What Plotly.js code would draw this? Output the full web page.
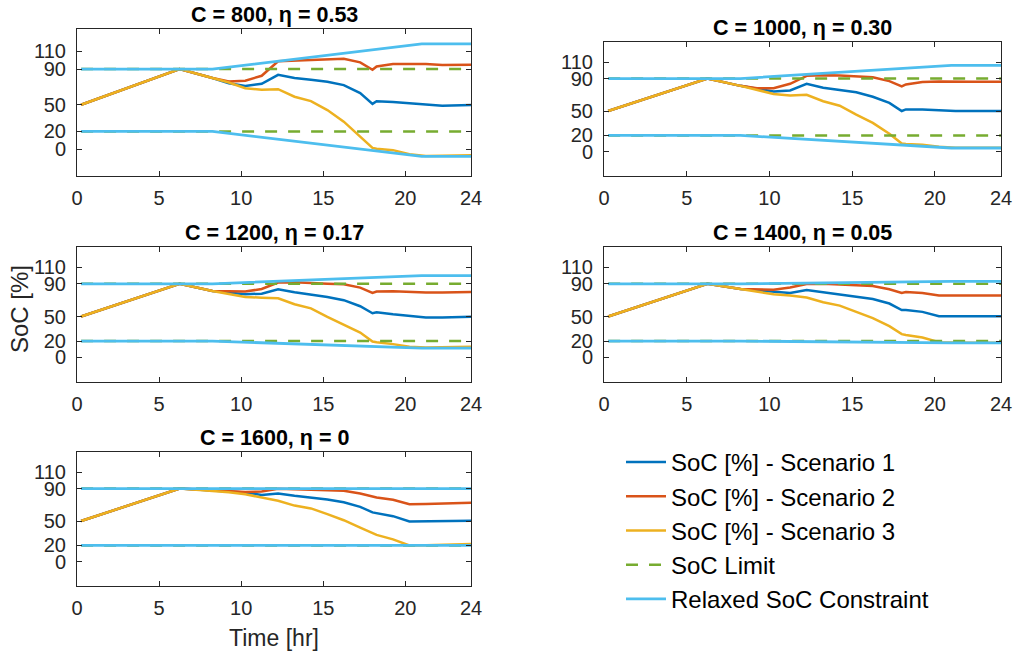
<!DOCTYPE html>
<html>
<head>
<meta charset="utf-8">
<script src="https://cdn.plot.ly/plotly-3.0.1.min.js"></script>
<style>html,body{margin:0;padding:0;background:#fff;}#chart{width:1017px;height:651px;}</style>
</head>
<body>
<div id="chart"></div>
<script>
// ---------- DATA ----------
const panelTitles = ["C = 800, η = 0.53", "C = 1000, η = 0.30", "C = 1200, η = 0.17", "C = 1400, η = 0.05", "C = 1600, η = 0"];
const seriesNames = ["SoC [%] - Scenario 1", "SoC [%] - Scenario 2", "SoC [%] - Scenario 3", "SoC Limit", "Relaxed SoC Constraint"];
const xTicks = [0, 5, 10, 15, 20, 24];
const yTicks = [0, 20, 50, 90, 110];

// time grid (hours) for the SoC trajectories
const timeHr = [0.25, 6.25, 8.25, 9.25, 10.25, 11.25, 12.25, 13.25, 14.25, 15.25, 16.25, 17.25, 18, 18.25, 19.25, 20.25, 21.25, 22.25, 24];
// time vertices for limits and relaxed constraints
const timeBound = [0.25, 8.25, 21, 24];
const timeLimit = [0.25, 24];

const soc1 = [
  [50, 90, 80, 74, 71, 73.5, 83.6, 79.9, 78, 75.7, 72, 63, 51, 54, 53, 51.6, 49.4, 48.8, 49.7],
  [50, 90, 81, 77.4, 74, 75.4, 83.5, 78.6, 76.2, 73, 67.6, 60, 50, 52, 52, 51, 50, 50, 50],
  [50, 90, 81.3, 79, 77.2, 78, 83.3, 79.7, 77.2, 74, 70, 62.6, 54, 55.3, 52.8, 50.4, 48.8, 48.8, 49.6],
  [50, 90, 83.7, 82, 80, 78.9, 82.5, 79.7, 77.2, 74.8, 71.5, 65.9, 58, 58, 55.7, 50.4, 50.4, 50.4, 50.4],
  [50, 90, 87.6, 86.3, 85.1, 82.2, 83.9, 81, 79, 76.5, 73.2, 67.5, 60.6, 59.5, 56, 49.5, 49.5, 49.7, 50.3]
];
const soc2 = [
  [50, 90, 80, 76, 77, 82.5, 98.7, 99.5, 100.2, 101, 101.7, 97.6, 89.3, 93, 95.7, 95.7, 95.7, 94.6, 95],
  [50, 90, 81, 78.2, 78.2, 83.5, 93.3, 94, 93.7, 92.9, 91.7, 86.8, 80.3, 82.7, 85.6, 86.4, 86, 86, 86],
  [50, 90, 81.3, 80.9, 80.5, 83.7, 91.5, 91.9, 91.5, 90.2, 89.4, 85.4, 78.9, 80.5, 80.9, 79.7, 79.3, 79.3, 80],
  [50, 90, 83.7, 82.9, 82.9, 85.4, 89.8, 90.2, 89.4, 88.6, 87.4, 83.3, 78.9, 80, 78.9, 75.6, 75.6, 75.6, 75.6],
  [50, 90, 88, 87.2, 85.9, 86.3, 89.6, 89.2, 88.8, 88, 87.2, 83.9, 79.8, 79, 76.1, 70.8, 71, 71.5, 72.4]
];
const soc3 = [
  [50, 90, 80, 75, 68.6, 66.7, 67.4, 59, 54, 44, 31, 14.5, 1.5, 0.5, -1, -5.6, -7.5, -7.2, -6.8],
  [50, 90, 81, 75.8, 71, 69, 70, 62, 56.6, 45.6, 35.4, 22, 10, 9.5, 8.6, 6.1, 4.9, 4.9, 4.9],
  [50, 90, 81.3, 78, 74, 73, 72.4, 65, 60, 49.6, 39.8, 30.5, 19.5, 18.5, 16.3, 13, 12.2, 12.2, 13],
  [50, 90, 83.7, 80.5, 77.2, 75.6, 73.2, 67.5, 63.4, 55.7, 48, 38.2, 28.5, 27.5, 24.4, 18.7, 17.9, 17.9, 17.9],
  [50, 90, 87, 85.5, 83, 79, 74.9, 69, 65.5, 58.5, 51, 42, 34.8, 33, 27.4, 20, 20.3, 20.8, 21.7]
];
const limitUpper = [90, 90];
const limitLower = [20, 20];
const relaxedUpper = [
  [90, 90, 118.3, 118.3],
  [90, 90, 106.3, 106.3],
  [90, 90, 100, 100],
  [90, 90, 93, 93],
  [90, 90, 90, 90]
];
const relaxedLower = [
  [20, 20, -7.9, -7.9],
  [20, 20, 4.5, 4.5],
  [20, 20, 11.4, 11.4],
  [20, 20, 17.9, 17.9],
  [20, 20, 20, 20]
];

// ---------- STYLE / LAYOUT ----------
const W = 1017, H = 651;
const colors = ["#0072BD", "#D95319", "#EDB120", "#77AC30", "#4DBEEE"];
const FONT = "Liberation Sans, Arial, Helvetica, sans-serif";
const TXT = "#262626";
// pixel boxes [left, right, top, bottom]
const boxes = [
  [77, 471, 29, 176],
  [604, 1001, 42, 176],
  [77, 471, 247, 382],
  [604, 1001, 247, 382],
  [77, 471, 452, 586]
];

const traces = [];
const layout = {
  width: W, height: H,
  margin: {l: 0, r: 0, t: 0, b: 0},
  paper_bgcolor: "#fff", plot_bgcolor: "#fff",
  font: {family: FONT, color: TXT, size: 20},
  showlegend: true,
  legend: {
    x: 621 / W, y: 1 - 440 / H, xanchor: "left", yanchor: "top",
    font: {family: FONT, size: 24, color: "#000"},
    bgcolor: "rgba(0,0,0,0)", itemwidth: 40, tracegroupgap: 0
  },
  annotations: []
};

boxes.forEach((b, i) => {
  const k = i + 1;
  const xa = k === 1 ? "x" : "x" + k;
  const ya = k === 1 ? "y" : "y" + k;
  const axCommon = {
    showgrid: false, zeroline: false, showline: true, linecolor: TXT, linewidth: 1,
    mirror: "ticks", ticks: "inside", ticklen: 5, tickcolor: TXT, tickwidth: 1,
    tickfont: {family: FONT, size: 20, color: TXT}, fixedrange: true
  };
  layout["xaxis" + (k === 1 ? "" : k)] = Object.assign({}, axCommon, {
    domain: [b[0] / W, b[1] / W], anchor: ya, range: [0, 24],
    tickmode: "array", tickvals: xTicks, ticktext: xTicks.map(String), ticklabelstandoff: 4
  });
  layout["yaxis" + (k === 1 ? "" : k)] = Object.assign({}, axCommon, {
    domain: [1 - b[3] / H, 1 - b[2] / H], anchor: xa, range: [-30, 135],
    tickmode: "array", tickvals: yTicks, ticktext: yTicks.map(String), ticklabelstandoff: 6
  });
  layout.annotations.push({
    text: "<b>" + panelTitles[i] + "</b>", xref: xa + " domain", yref: ya + " domain",
    x: 0.5, y: 1, xanchor: "center", yanchor: "bottom", yshift: 0, showarrow: false,
    font: {family: FONT, size: 21.5, color: "#000"}
  });
  const show = i === 0;
  const base = {xaxis: xa, yaxis: ya, mode: "lines", showlegend: show, hoverinfo: "skip"};
  traces.push(Object.assign({}, base, {x: timeHr, y: soc1[i], name: seriesNames[0], legendgroup: "s1", line: {color: colors[0], width: 2.5}}));
  traces.push(Object.assign({}, base, {x: timeHr, y: soc2[i], name: seriesNames[1], legendgroup: "s2", line: {color: colors[1], width: 2.5}}));
  traces.push(Object.assign({}, base, {x: timeHr, y: soc3[i], name: seriesNames[2], legendgroup: "s3", line: {color: colors[2], width: 2.5}}));
  traces.push(Object.assign({}, base, {x: timeLimit, y: limitUpper, name: seriesNames[3], legendgroup: "lim", line: {color: colors[3], width: 2.5, dash: "12px,11px"}}));
  traces.push(Object.assign({}, base, {x: timeLimit, y: limitLower, name: seriesNames[3], legendgroup: "lim", showlegend: false, line: {color: colors[3], width: 2.5, dash: "12px,11px"}}));
  traces.push(Object.assign({}, base, {x: timeBound, y: relaxedUpper[i], name: seriesNames[4], legendgroup: "rel", line: {color: colors[4], width: 2.8}}));
  traces.push(Object.assign({}, base, {x: timeBound, y: relaxedLower[i], name: seriesNames[4], legendgroup: "rel", showlegend: false, line: {color: colors[4], width: 2.8}}));
});

layout.xaxis5.title = {text: "Time [hr]", font: {family: FONT, size: 23, color: TXT}, standoff: 12};
// y-axis label of the middle-left panel, placed like the reference
layout.annotations.push({
  text: "SoC [%]", xref: "paper", yref: "paper", x: 19 / W, y: 1 - 309 / H,
  xanchor: "center", yanchor: "middle", textangle: -90, showarrow: false,
  font: {family: FONT, size: 24, color: TXT}
});

Plotly.newPlot("chart", traces, layout, {displayModeBar: false, staticPlot: true});
</script>
</body>
</html>
